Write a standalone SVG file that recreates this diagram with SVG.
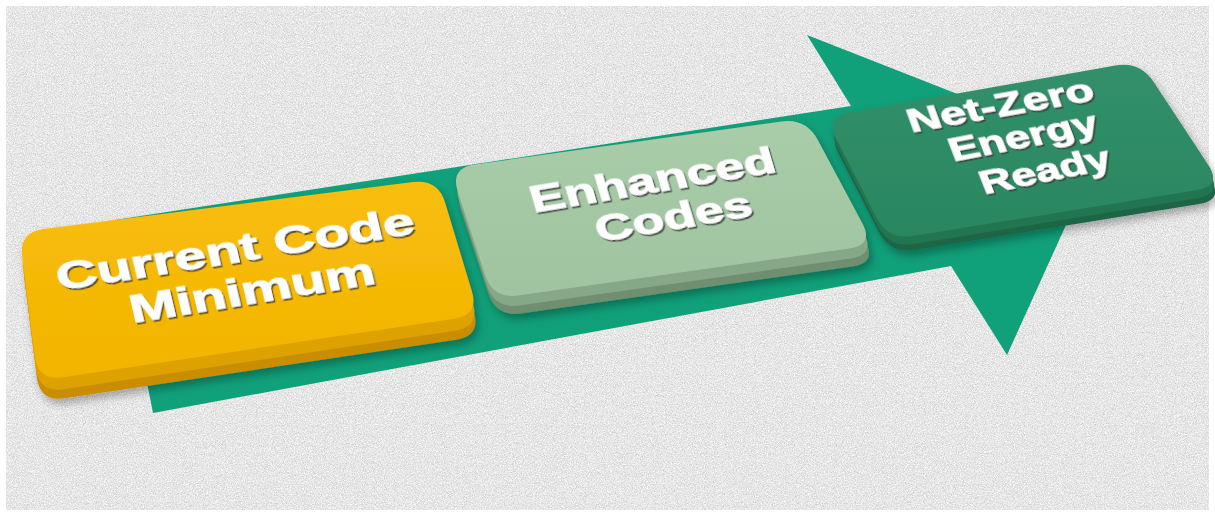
<svg xmlns="http://www.w3.org/2000/svg" width="1215" height="516" viewBox="0 0 1215 516">
  <defs>
    <filter id="noise" x="0" y="0" width="100%" height="100%">
      <feTurbulence type="fractalNoise" baseFrequency="0.9" numOctaves="2" seed="7" result="t"/>
      <feColorMatrix in="t" type="matrix" values="0 0 0 0 0.6  0 0 0 0 0.6  0 0 0 0 0.6  2.8 0 0 0 -1.25" result="dark"/>
      <feTurbulence type="fractalNoise" baseFrequency="0.7" numOctaves="2" seed="21" result="t2"/>
      <feColorMatrix in="t2" type="matrix" values="0 0 0 0 1  0 0 0 0 1  0 0 0 0 1  2.8 0 0 0 -1.2" result="light"/>
      <feMerge>
        <feMergeNode in="light"/>
        <feMergeNode in="dark"/>
      </feMerge>
    </filter>
    <filter id="boxShadow" x="-10%" y="-20%" width="120%" height="150%">
      <feDropShadow dx="3" dy="5" stdDeviation="4" flood-color="#000" flood-opacity="0.3"/>
    </filter>
    <filter id="txtShadow" x="-10%" y="-30%" width="120%" height="160%">
      <feDropShadow dx="1.2" dy="2" stdDeviation="0.7" flood-color="#3a3a3a" flood-opacity="0.85"/>
    </filter>
    <linearGradient id="gYellow" x1="0" y1="0" x2="0" y2="1">
      <stop offset="0" stop-color="#F8BE0C"/>
      <stop offset="1" stop-color="#F2B400"/>
    </linearGradient>
    <linearGradient id="gSage" x1="0" y1="0" x2="0" y2="1">
      <stop offset="0" stop-color="#A9CCA9"/>
      <stop offset="1" stop-color="#9FC49F"/>
    </linearGradient>
    <linearGradient id="gDark" x1="0" y1="0" x2="0" y2="1">
      <stop offset="0" stop-color="#31906A"/>
      <stop offset="1" stop-color="#2B865F"/>
    </linearGradient>
  </defs>
  <style>
    .lbl { font-family: "Liberation Sans", Arial, sans-serif; font-weight: bold; fill: #FFFFFF; stroke: #FFFFFF; stroke-width: 0.9; text-anchor: middle; filter: url(#txtShadow); }
  </style>

  <!-- background -->
  <rect x="0" y="0" width="1215" height="516" fill="#FFFFFF"/>
  <rect x="6" y="6" width="1203" height="504" fill="#E7E7E7"/>
  <rect x="6" y="6" width="1203" height="504" filter="url(#noise)"/>

  <!-- connectors: the big arrow -->
  <g id="connectors">
    <polygon id="arrow" points="115,220 851,106 807,35 1100,150 1007,355 951,266 153,413" fill="#10A07A"/>
  </g>

  <!-- Node 1: Current Code Minimum -->
  <g id="node-current">
    <g filter="url(#boxShadow)">
      <path transform="translate(2,21)" fill="#C98E00" d="M43.8,228.9 L413.2,182.1 Q438,179 445.2,202.9 L471.8,291.1 Q479,315 454.3,318.7 L62.7,377.3 Q38,381 34.8,356.2 L22.2,256.8 Q19,232 43.8,228.9 Z"/>
      <path transform="translate(1,12)" fill="#DDA100" d="M43.8,228.9 L413.2,182.1 Q438,179 445.2,202.9 L471.8,291.1 Q479,315 454.3,318.7 L62.7,377.3 Q38,381 34.8,356.2 L22.2,256.8 Q19,232 43.8,228.9 Z"/>
      <path fill="url(#gYellow)" d="M43.8,228.9 L413.2,182.1 Q438,179 445.2,202.9 L471.8,291.1 Q479,315 454.3,318.7 L62.7,377.3 Q38,381 34.8,356.2 L22.2,256.8 Q19,232 43.8,228.9 Z"/>
    </g>
    <text class="lbl" font-size="38" textLength="362" lengthAdjust="spacingAndGlyphs" transform="translate(238,262) rotate(-9.1) skewX(4)">Current Code</text>
    <text class="lbl" font-size="38" textLength="248" lengthAdjust="spacingAndGlyphs" transform="translate(255,303) rotate(-9.2) skewX(4)">Minimum</text>
  </g>

  <!-- Node 2: Enhanced Codes -->
  <g id="node-enhanced">
    <g filter="url(#boxShadow)">
      <path transform="translate(3,18)" fill="#6F8E70" d="M474.8,164.5 L781.3,121.5 Q806,118 817.8,140 L862.2,223 Q874,245 849.3,248.5 L517.8,295.5 Q493,299 485.2,275.3 L457.8,191.8 Q450,168 474.8,164.5 Z"/>
      <path transform="translate(1.5,10)" fill="#86A886" d="M474.8,164.5 L781.3,121.5 Q806,118 817.8,140 L862.2,223 Q874,245 849.3,248.5 L517.8,295.5 Q493,299 485.2,275.3 L457.8,191.8 Q450,168 474.8,164.5 Z"/>
      <path fill="url(#gSage)" d="M474.8,164.5 L781.3,121.5 Q806,118 817.8,140 L862.2,223 Q874,245 849.3,248.5 L517.8,295.5 Q493,299 485.2,275.3 L457.8,191.8 Q450,168 474.8,164.5 Z"/>
    </g>
    <text class="lbl" font-size="37" textLength="248" lengthAdjust="spacingAndGlyphs" transform="translate(656,192) rotate(-9.5) skewX(7)">Enhanced</text>
    <text class="lbl" font-size="37" textLength="158" lengthAdjust="spacingAndGlyphs" transform="translate(677,229) rotate(-9.8) skewX(7)">Codes</text>
  </g>

  <!-- Node 3: Net-Zero Energy Ready -->
  <g id="node-netzero">
    <g filter="url(#boxShadow)">
      <path transform="translate(2,14)" fill="#1E6645" d="M849.6,112.6 L1115.4,65.4 Q1140,61 1153.7,81.9 L1208.3,165.1 Q1222,186 1197.3,190 L912.7,236 Q888,240 876.6,217.8 L836.4,139.3 Q825,117 849.6,112.6 Z"/>
      <path transform="translate(1,8)" fill="#247551" d="M849.6,112.6 L1115.4,65.4 Q1140,61 1153.7,81.9 L1208.3,165.1 Q1222,186 1197.3,190 L912.7,236 Q888,240 876.6,217.8 L836.4,139.3 Q825,117 849.6,112.6 Z"/>
      <path fill="url(#gDark)" d="M849.6,112.6 L1115.4,65.4 Q1140,61 1153.7,81.9 L1208.3,165.1 Q1222,186 1197.3,190 L912.7,236 Q888,240 876.6,217.8 L836.4,139.3 Q825,117 849.6,112.6 Z"/>
    </g>
    <text class="lbl" font-size="32" textLength="188" lengthAdjust="spacingAndGlyphs" transform="translate(1004,116) rotate(-10) skewX(10)">Net-Zero</text>
    <text class="lbl" font-size="32" textLength="150" lengthAdjust="spacingAndGlyphs" transform="translate(1027,147) rotate(-11) skewX(10)">Energy</text>
    <text class="lbl" font-size="32" textLength="132" lengthAdjust="spacingAndGlyphs" transform="translate(1049,181) rotate(-11.5) skewX(10)">Ready</text>
  </g>
</svg>
